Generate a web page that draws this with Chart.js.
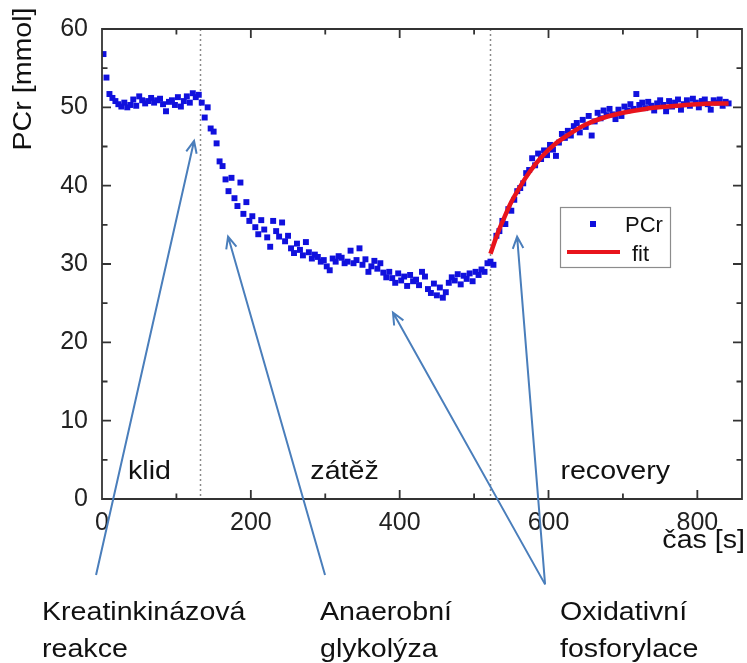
<!DOCTYPE html>
<html>
<head>
<meta charset="utf-8">
<script src="https://cdn.jsdelivr.net/npm/chart.js@4.4.1/dist/chart.umd.min.js"></script>
<style>
  body { margin: 0; background: #fff; }
  #wrap { width: 747px; height: 663px; }
</style>
</head>
<body>
<div id="wrap"><canvas id="pcrChart" width="747" height="663"></canvas></div>
<script>
/* Data */
const restTime = [2,6,10,14,18,22,26,30,34,38,42,46,50,54,58,62,66,70,74,78,82,86,90,94,98,102,106,110,114,118,122,126,130];
const restPCr = [56.8,53.8,51.7,51.2,50.8,50.4,50.1,50.6,50.0,50.3,51.0,50.2,51.4,50.9,50.5,50.8,51.2,50.6,50.9,51.1,50.4,49.5,50.7,50.9,50.3,51.3,50.1,50.8,51.4,50.6,51.8,51.3,51.6];

const exerciseTime = [134,138,142,146,150,154,158,162,166,170,174,178,182,186,190,194,198,202,206,210,
  214,218,222,226,230,234,238,242,246,250,254,258,262,266,270,274,278,282,286,290,
  294,298,302,306,310,314,318,322,326,330,334,338,342,346,350,354,358,362,366,370,
  374,378,382,386,390,394,398,402,406,410,414,418,422,426,430,434,438,442,446,450,
  454,458,462,466,470,474,478,482,486,490,494,498,502,506,510,514,518];
const exercisePCr = [50.6,48.7,50.0,47.3,46.9,45.4,43.1,42.5,40.8,39.3,41.0,38.4,37.4,40.4,36.4,37.9,35.5,36.1,34.7,33.8,
  35.6,34.4,33.4,32.2,35.5,34.2,33.5,35.3,32.9,33.6,32.0,31.4,32.6,31.8,31.1,32.8,31.5,30.7,31.2,30.9,
  30.3,30.5,29.7,29.2,30.7,30.3,31.0,30.8,30.1,30.3,31.7,30.1,30.5,32.0,29.9,30.6,29.0,29.7,30.4,29.4,
  30.1,28.9,28.3,29.0,28.2,27.6,28.8,27.9,28.4,27.2,28.6,27.8,28.0,27.3,29.0,28.4,26.8,26.3,27.5,26.0,
  27.0,25.7,26.4,27.6,28.3,27.9,28.7,27.4,28.5,28.1,28.8,27.8,29.0,28.6,29.3,29.0,30.1];

const recoveryTime = [522,526,530,534,538,542,546,550,554,558,562,566,570,574,578,582,586,590,594,598,
  602,606,610,614,618,622,626,630,634,638,642,646,650,654,658,662,666,670,674,678,
  682,686,690,694,698,702,706,710,714,718,722,726,730,734,738,742,746,750,754,758,
  762,766,770,774,778,782,786,790,794,798,802,806,810,814,818,822,826,830,834,838,842];
const recoveryPCr = [30.3,29.9,33.6,34.2,35.5,35.1,37.0,36.8,38.2,39.3,39.7,40.3,41.6,42.0,43.5,42.6,44.1,43.4,44.5,43.9,
  45.2,44.6,43.8,45.5,46.6,46.1,47.0,46.4,47.6,48.0,46.8,48.4,47.5,48.9,46.4,48.2,49.3,48.6,49.6,49.0,
  49.8,49.1,48.5,49.7,48.9,50.1,49.6,50.4,49.8,51.7,50.3,50.6,49.9,50.7,50.2,49.6,50.5,50.9,50.3,49.5,
  50.8,50.1,50.6,51.0,49.7,50.4,50.9,50.2,51.1,50.6,50.0,50.8,51.0,50.4,49.7,50.9,50.6,51.0,50.2,50.7,50.5];

const fitTime = [522,530,540,550,560,575,590,610,630,650,675,700,730,760,800,842];
const fitPCr = [31.3,33.5,35.8,37.9,39.6,41.8,43.6,45.4,46.7,47.8,48.7,49.3,49.8,50.1,50.4,50.5];

const phaseBorders = [131.5, 522];
const phaseNames = ['klid', 'zátěž', 'recovery'];
const notes = [['Kreatinkinázová', 'reakce'], ['Anaerobní', 'glykolýza'], ['Oxidativní', 'fosforylace']];

/* helpers */
const FONT = '"Liberation Sans", Arial, sans-serif';
const SX = 1.1; // text in the original looks slightly stretched

function toPoints(xs, ys) {
  return xs.map((t, i) => ({ x: t, y: ys[i] }));
}

function text(ctx, str, x, y, align) {
  ctx.save();
  ctx.translate(x, y);
  ctx.scale(SX, 1);
  ctx.textAlign = align || 'left';
  ctx.fillText(str, 0, 0);
  ctx.restore();
}

function arrow(ctx, x1, y1, x2, y2) {
  const a = Math.atan2(y2 - y1, x2 - x1);
  const h = 13, w = 0.42;
  ctx.beginPath();
  ctx.moveTo(x1, y1);
  ctx.lineTo(x2, y2);
  ctx.moveTo(x2 - h * Math.cos(a - w), y2 - h * Math.sin(a - w));
  ctx.lineTo(x2, y2);
  ctx.lineTo(x2 - h * Math.cos(a + w), y2 - h * Math.sin(a + w));
  ctx.stroke();
}

/* dotted phase borders */
const phaseLines = {
  id: 'phaseLines',
  beforeDatasetsDraw(chart) {
    const { ctx, chartArea: a, scales: { x } } = chart;
    ctx.save();
    ctx.strokeStyle = '#8a8a8a';
    ctx.lineWidth = 1.5;
    ctx.setLineDash([2, 3]);
    phaseBorders.forEach(t => {
      const px = Math.round(x.getPixelForValue(t)) + 0.5;
      ctx.beginPath();
      ctx.moveTo(px, a.top);
      ctx.lineTo(px, a.bottom);
      ctx.stroke();
    });
    ctx.restore();
  }
};

/* box frame with inward ticks on all four sides */
const frame = {
  id: 'frame',
  afterDatasetsDraw(chart) {
    const ctx = chart.ctx;
    const x = chart.scales.x, y = chart.scales.y;
    const L = x.getPixelForValue(0), R = x.getPixelForValue(860);
    const B = y.getPixelForValue(0), T = y.getPixelForValue(60);
    ctx.save();
    ctx.setLineDash([]);
    ctx.strokeStyle = '#333333';
    ctx.lineWidth = 1.8;
    ctx.beginPath();
    ctx.moveTo(L, T); ctx.lineTo(R, T); ctx.lineTo(R, B); ctx.lineTo(L, B); ctx.closePath();
    for (let v = 100; v <= 800; v += 100) {
      const px = x.getPixelForValue(v);
      const len = v % 200 === 0 ? 9 : 5.5;
      ctx.moveTo(px, B); ctx.lineTo(px, B - len);
      ctx.moveTo(px, T); ctx.lineTo(px, T + len);
    }
    for (let v = 5; v < 60; v += 5) {
      const py = y.getPixelForValue(v);
      const len = v % 10 === 0 ? 9 : 5.5;
      ctx.moveTo(L, py); ctx.lineTo(L + len, py);
      ctx.moveTo(R, py); ctx.lineTo(R - len, py);
    }
    ctx.stroke();
    ctx.restore();
  }
};

/* labels, arrows, legend */
const decor = {
  id: 'decor',
  afterDraw(chart) {
    const { ctx, scales: { x, y } } = chart;
    ctx.save();

    // phase names
    ctx.fillStyle = '#111';
    ctx.font = '26px ' + FONT;
    const phasePos = [35, 280, 616];
    phaseNames.forEach((s, i) => text(ctx, s, x.getPixelForValue(phasePos[i]), y.getPixelForValue(2.6)));

    // axis titles
    text(ctx, 'čas [s]', 745, 548, 'right');
    ctx.save();
    ctx.translate(31, 79);
    ctx.rotate(-Math.PI / 2);
    text(ctx, 'PCr [mmol]', 0, 0, 'center');
    ctx.restore();

    // notes under the plot
    const noteX = [42, 320, 560];
    notes.forEach((lines, i) => {
      text(ctx, lines[0], noteX[i], 620);
      text(ctx, lines[1], noteX[i], 657);
    });

    // arrows (anchors in data units)
    const arrowLinks = [
      [[-8, -9.7], [123.7, 45.7]],
      [[299.7, -9.7], [169.4, 33.5]],
      [[595.4, -10.9], [391, 23.8]],
      [[595.4, -10.9], [557.8, 33.5]]
    ];
    ctx.strokeStyle = '#4a7ebb';
    ctx.lineWidth = 2;
    arrowLinks.forEach(([from, to]) => {
      arrow(ctx, x.getPixelForValue(from[0]), y.getPixelForValue(from[1]),
        x.getPixelForValue(to[0]), y.getPixelForValue(to[1]));
    });

    // legend
    ctx.fillStyle = '#fff';
    ctx.fillRect(560.5, 207.5, 110, 60);
    ctx.strokeStyle = '#8c8c8c';
    ctx.lineWidth = 1.2;
    ctx.strokeRect(560.5, 207.5, 110, 60);
    ctx.fillStyle = '#1010dd';
    ctx.fillRect(590, 221, 6, 6);
    ctx.strokeStyle = '#e8141c';
    ctx.lineWidth = 4;
    ctx.beginPath();
    ctx.moveTo(567, 252);
    ctx.lineTo(620, 252);
    ctx.stroke();
    ctx.fillStyle = '#111';
    ctx.font = '22px ' + FONT;
    ctx.textAlign = 'left';
    ctx.fillText('PCr', 625, 232);
    ctx.fillText('fit', 632, 261);

    ctx.restore();
  }
};

new Chart(document.getElementById('pcrChart'), {
  type: 'scatter',
  data: {
    datasets: [{
      label: 'fit',
      data: toPoints(fitTime, fitPCr),
      showLine: true,
      borderColor: '#e8141c',
      borderWidth: 4.5,
      pointRadius: 0,
      cubicInterpolationMode: 'monotone',
      order: 0
    }, {
      label: 'PCr',
      data: toPoints(restTime.concat(exerciseTime, recoveryTime), restPCr.concat(exercisePCr, recoveryPCr)),
      pointStyle: 'rect',
      pointRadius: 4.2,
      borderWidth: 0,
      backgroundColor: '#1010dd',
      order: 1
    }]
  },
  options: {
    responsive: false,
    animation: false,
    layout: { padding: { left: 0, right: 5, top: 22, bottom: 124 } },
    plugins: { legend: { display: false }, tooltip: { enabled: false } },
    scales: {
      x: {
        min: 0, max: 860,
        grid: { display: false, drawTicks: false },
        border: { display: false },
        ticks: { stepSize: 200, includeBounds: false, padding: 9, color: '#222', font: { family: FONT, size: 25 } },
        afterFit: s => { s.height = 40; }
      },
      y: {
        min: 0, max: 60,
        grid: { display: false, drawTicks: false },
        border: { display: false },
        ticks: { stepSize: 10, padding: 14, color: '#222', font: { family: FONT, size: 25 } },
        afterFit: s => { s.width = 102; }
      }
    }
  },
  plugins: [phaseLines, frame, decor]
});
</script>
</body>
</html>
